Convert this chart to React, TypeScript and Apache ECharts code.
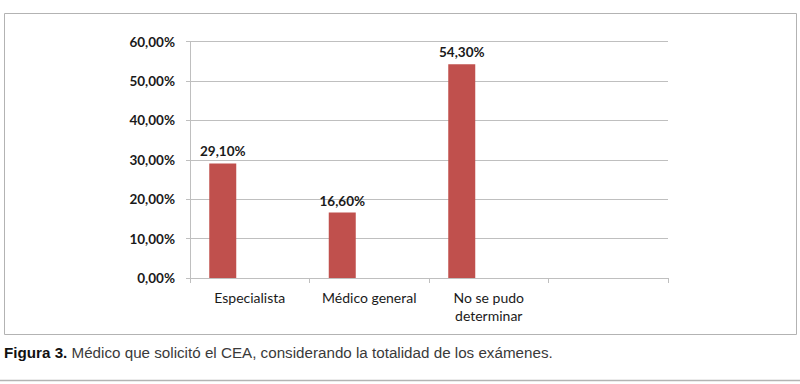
import React, { useEffect, useRef } from "react";
import * as echarts from "echarts";

const categories = ["Especialista", "Médico general", "No se pudo\ndeterminar", ""];
const values = [29.1, 16.6, 54.3, null];
const emptySeries = [null, null, null, null];
const yTicks = { min: 0, max: 60, interval: 10 };
const captionBold = "Figura 3.";
const captionText = " Médico que solicitó el CEA, considerando la totalidad de los exámenes.";

const fmt = (v: number) => v.toFixed(2).replace(".", ",") + "%";

export default function App() {
  const ref = useRef<HTMLDivElement>(null);
  useEffect(() => {
    if (!ref.current) return;
    const chart = echarts.init(ref.current, undefined, { renderer: "svg" });
    chart.setOption({
      animation: false,
      backgroundColor: "#ffffff",
      grid: { left: 190, right: 132, top: 41.7, bottom: 106, containLabel: false },
      xAxis: {
        type: "category",
        data: categories,
        boundaryGap: true,
        axisLine: { lineStyle: { color: "#bfbfbf", width: 1 } },
        axisTick: { show: true, length: 5, lineStyle: { color: "#bfbfbf" }, alignWithLabel: false },
        axisLabel: {
          interval: 0,
          margin: 10,
          fontFamily: "Lato",
          fontSize: 14,
          lineHeight: 18,
          color: "#1a1a1a",
        },
      },
      yAxis: {
        type: "value",
        min: yTicks.min,
        max: yTicks.max,
        interval: yTicks.interval,
        axisLine: { show: true, lineStyle: { color: "#bfbfbf", width: 1 } },
        axisTick: { show: true, length: 4, lineStyle: { color: "#bfbfbf" } },
        splitLine: { lineStyle: { color: "#bfbfbf", width: 1 } },
        axisLabel: {
          margin: 15,
          fontFamily: "Lato",
          fontWeight: "bold",
          fontSize: 13.5,
          color: "#1a1a1a",
          formatter: (v: number) => fmt(v),
        },
      },
      series: [
        {
          type: "bar",
          data: values,
          barWidth: 27,
          barGap: "100%",
          itemStyle: { color: "#c0504d" },
          label: {
            show: true,
            position: "top",
            distance: 5,
            fontFamily: "Lato",
            fontWeight: "bold",
            fontSize: 13.5,
            color: "#1a1a1a",
            formatter: (p: any) => (p.value == null ? "" : fmt(p.value)),
          },
        },
        {
          type: "bar",
          data: emptySeries,
          barWidth: 27,
          barGap: "100%",
          silent: true,
        },
      ],
      graphic: [
        {
          type: "rect",
          shape: { x: 4.5, y: 13.5, width: 792, height: 321 },
          style: { fill: "none", stroke: "#b3b3b3", lineWidth: 1 },
          silent: true,
        },
        {
          type: "line",
          shape: { x1: 0, y1: 380.5, x2: 800, y2: 380.5 },
          style: { stroke: "#b3b3b3", lineWidth: 1.5 },
          silent: true,
        },
        {
          type: "text",
          x: 4,
          y: 352,
          style: {
            text: "{b|" + captionBold + "}{n|" + captionText + "}",
            verticalAlign: "middle",
            rich: {
              b: { fontFamily: "Liberation Sans", fontWeight: "bold", fontSize: 15.2, fill: "#111111" },
              n: { fontFamily: "Liberation Sans", fontSize: 15.2, fill: "#3a3a3a" },
            },
          },
          silent: true,
        },
      ],
    });
    return () => chart.dispose();
  }, []);
  return (
    <div
      ref={ref}
      style={{ position: "absolute", left: 0, top: 0, width: 800, height: 384 }}
    />
  );
}
